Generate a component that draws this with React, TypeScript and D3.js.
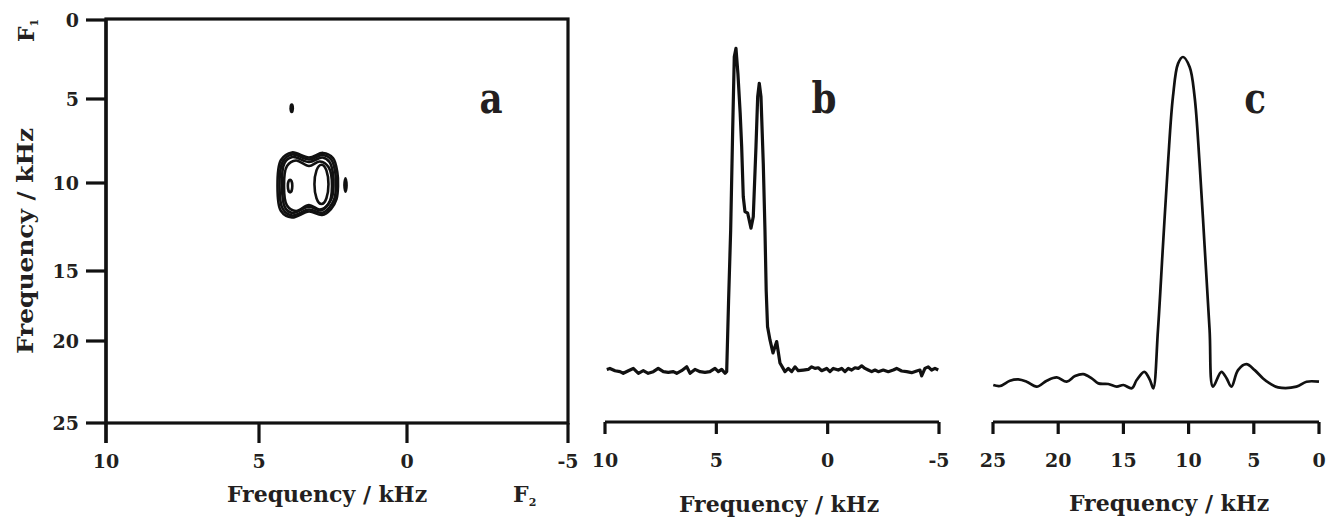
import React from 'react';
import * as d3 from 'd3';

// ---------- data ----------
const aXTicks = [10, 5, 0, -5];
const aYTicks = [0, 5, 10, 15, 20, 25];
const bXTicks = [10, 5, 0, -5];
const cXTicks = [25, 20, 15, 10, 5, 0];

// panel a: contour rings (F2 kHz, F1 kHz)
const ring1: [number, number][] = [
  [4.375, 10.17], [4.257, 8.63], [3.885, 8.18], [3.311, 8.48], [2.838, 8.21], [2.5, 8.51],
  [2.355, 9.35], [2.331, 10.17], [2.382, 10.91], [2.568, 11.48], [2.872, 11.82], [3.311, 11.62],
  [3.885, 11.96], [4.257, 11.59],
];
const ring2: [number, number][] = [
  [4.307, 10.17], [4.196, 8.72], [3.878, 8.3], [3.311, 8.6], [2.848, 8.33], [2.557, 8.61],
  [2.422, 9.38], [2.399, 10.17], [2.449, 10.88], [2.618, 11.38], [2.878, 11.7], [3.311, 11.51],
  [3.878, 11.85], [4.196, 11.48],
];
const ring3: [number, number][] = [
  [4.223, 10.17], [4.139, 8.81], [3.868, 8.45], [3.311, 8.75], [2.855, 8.48], [2.618, 8.75],
  [2.5, 9.43], [2.483, 10.17], [2.534, 10.82], [2.686, 11.25], [2.905, 11.56], [3.311, 11.34],
  [3.868, 11.7], [4.122, 11.39],
];
const ring4: [number, number][] = [
  [4.155, 10.17], [4.054, 8.99], [3.75, 8.66], [3.311, 8.99], [2.94, 8.72], [2.652, 9.05],
  [2.534, 10.17], [2.652, 11.19], [2.94, 11.51], [3.311, 11.25], [3.75, 11.59], [4.054, 11.28],
];
const contourRings = [ring1, ring2, ring3, ring4];
// stroked ellipses: [F2 centre, F1 centre, F2 half width, F1 half height]
const contourEllipses: [number, number, number, number][] = [
  [2.89, 10.05, 0.237, 1.14],
  [3.95, 10.17, 0.075, 0.36],
];
// filled small peaks
const contourDots: [number, number, number, number][] = [
  [2.078, 10.11, 0.08, 0.46],
  [3.895, 5.55, 0.08, 0.3],
];

// panel b spectrum
const specBFreq = [
  9.92, 9.78, 9.55, 9.33, 9.18, 8.95, 8.73, 8.5, 8.28, 8.06, 7.83, 7.61, 7.38, 7.16, 6.93, 6.78,
  6.56, 6.33, 6.18, 5.96, 5.73, 5.51, 5.29, 5.06, 4.91, 4.76, 4.61, 4.535, 4.45, 4.356, 4.266,
  4.194, 4.118, 4.03, 3.93, 3.862, 3.79, 3.714, 3.592, 3.444, 3.341, 3.22, 3.143, 3.071, 2.995,
  2.892, 2.816, 2.76, 2.7, 2.591, 2.456, 2.29, 2.142, 2.007, 1.917, 1.769, 1.617, 1.468, 1.32, 1.096,
  0.871, 0.719, 0.57, 0.422, 0.269, 0.045, -0.103, -0.252, -0.476, -0.629, -0.777, -0.925, -1.078,
  -1.226, -1.374, -1.527, -1.675, -1.823, -1.976, -2.124, -2.272, -2.497, -2.721, -2.946, -3.098,
  -3.323, -3.548, -3.772, -3.997, -4.144, -4.221, -4.369, -4.518, -4.67, -4.818, -4.966,
];
const specBInt = [
  0.008, 0.011, 0.004, 0.001, -0.004, 0.004, 0.011, -0.004, 0.004, -0.004, 0.001, 0.011, 0.001,
  -0.001, 0.001, -0.004, 0.004, 0.016, -0.004, 0.008, 0.001, -0.001, 0.001, 0.011, 0.001, 0.008,
  -0.004, 0.001, 0.22, 0.438, 0.747, 0.973, 0.999, 0.92, 0.8, 0.695, 0.541, 0.495, 0.49, 0.444,
  0.479, 0.695, 0.85, 0.891, 0.85, 0.644, 0.438, 0.25, 0.14, 0.099, 0.059, 0.094, 0.028, 0.012, 0.001,
  0.011, 0.001, 0.016, 0.004, 0.006, 0.008, 0.016, 0.011, 0.013, 0.004, 0.011, 0.001, 0.011,
  0.006, 0.011, 0.001, 0.011, 0.006, 0.013, 0.011, 0.019, 0.011, 0.006, 0.001, 0.006, 0.001,
  0.006, 0.001, 0.006, 0.011, 0.003, 0.001, -0.002, 0.003, 0.006, -0.012, 0.011, 0.016, 0.006,
  0.011, 0.006,
];

// panel c spectrum
const specCFreq = [
  24.98, 24.46, 23.7, 23.06, 22.42, 21.65, 20.88, 20.11, 19.35, 18.71, 18.08, 17.43, 16.92, 16.16,
  15.51, 15.0, 14.36, 13.98, 13.4, 12.96, 12.71, 12.35, 11.97, 11.58, 11.2, 10.81, 10.43, 9.92,
  9.54, 9.16, 8.77, 8.39, 8.13, 7.49, 7.1, 6.72, 6.21, 5.57, 4.93, 4.29, 3.78, 3.14, 1.73, 0.96, 0.0,
];
const specCInt = [
  0.009, 0.006, 0.022, 0.026, 0.019, 0.004, 0.022, 0.032, 0.019, 0.036, 0.042, 0.029, 0.014, 0.012,
  0.004, 0.009, -0.001, 0.024, 0.049, 0.024, -0.001, 0.175, 0.427, 0.679, 0.88, 0.98, 1.0, 0.97,
  0.88, 0.68, 0.427, 0.175, 0.004, 0.049, 0.03, 0.004, 0.054, 0.072, 0.054, 0.029, 0.014, 0.002,
  0.004, 0.019, 0.019,
];

// ---------- styles ----------
const INK = '#111111';
const TXT = '#231f20';
const FONT = '"DejaVu Serif", "Liberation Serif", serif';

export default function App() {
  const W = 1327, H = 518;

  // panel a scales
  const xA = d3.scaleLinear().domain([10, 5, 0, -5]).range([106, 259, 407, 568]);
  const yA = d3.scaleLinear().domain([0, 5, 10, 15, 20, 25]).range([20, 99, 183, 271, 341, 423]);
  // panel b
  const xB = d3.scaleLinear().domain([10, -5]).range([605, 939]);
  const yB = d3.scaleLinear().domain([0, 1]).range([372, 48]);
  // panel c
  const xC = d3.scaleLinear().domain([25, 0]).range([993, 1319]);
  const yC = d3.scaleLinear().domain([0, 1]).range([388, 57]);

  const ringLine = d3
    .line<[number, number]>()
    .x((d) => xA(d[0]))
    .y((d) => yA(d[1]))
    .curve(d3.curveCatmullRomClosed.alpha(0.5));

  const bPts: [number, number][] = specBFreq.map((f, i) => [f, specBInt[i]]);
  const cPts: [number, number][] = specCFreq.map((f, i) => [f, specCInt[i]]);
  const lineB = d3.line<[number, number]>().x((d) => xB(d[0])).y((d) => yB(d[1])).curve(d3.curveLinear);
  const lineC = d3
    .line<[number, number]>()
    .x((d) => xC(d[0]))
    .y((d) => yC(d[1]))
    .curve(d3.curveCatmullRom.alpha(0.5));

  const aLeft = xA(10), aRight = xA(-5), aTop = yA(0), aBot = yA(25);
  const axW = 3.2;
  const tickLen = 20;

  const ell = (e: [number, number, number, number]) => {
    const cx = xA(e[0]);
    const cy = (yA(e[1] - e[3]) + yA(e[1] + e[3])) / 2;
    const rx = Math.abs(xA(e[0] + e[2]) - xA(e[0] - e[2])) / 2;
    const ry = Math.abs(yA(e[1] + e[3]) - yA(e[1] - e[3])) / 2;
    return { cx, cy, rx, ry };
  };

  const axisY = 422;
  const smallTick = 12;
  const tickFs = 19;
  const titleFs = 22;

  return (
    <svg
      width={W}
      height={H}
      style={{ position: 'absolute', left: 0, top: 0, background: '#fff' }}
      fontFamily={FONT}
    >
      <rect x={0} y={0} width={W} height={H} fill="#fff" />
      {/* ===== panel a ===== */}
      <rect x={aLeft} y={aTop - 1} width={aRight - aLeft} height={aBot - aTop + 1} fill="none" stroke={INK} strokeWidth={axW} />
      <line x1={aLeft} x2={aLeft} y1={aTop} y2={aBot + tickLen} stroke={INK} strokeWidth={axW} />
      {aYTicks.map((t) => (
        <g key={'ay' + t}>
          <line x1={aLeft - tickLen} x2={aLeft} y1={yA(t)} y2={yA(t)} stroke={INK} strokeWidth={axW} />
          <text x={79} y={yA(t)} dy="0.36em" textAnchor="end" fontSize={tickFs} fontWeight="bold" fill={TXT}>
            {t}
          </text>
        </g>
      ))}
      {aXTicks.map((t) => (
        <g key={'ax' + t}>
          <line x1={xA(t)} x2={xA(t)} y1={aBot} y2={aBot + tickLen} stroke={INK} strokeWidth={axW} />
          <text x={xA(t)} y={468} textAnchor="middle" fontSize={tickFs} fontWeight="bold" fill={TXT}>
            {t}
          </text>
        </g>
      ))}
      {contourRings.map((r, i) => (
        <path key={'r' + i} d={ringLine(r) || ''} fill="none" stroke={INK} strokeWidth={2.6} />
      ))}
      {contourEllipses.map((e, i) => {
        const g = ell(e);
        return <ellipse key={'e' + i} cx={g.cx} cy={g.cy} rx={g.rx} ry={g.ry} fill="none" stroke={INK} strokeWidth={2.6} />;
      })}
      {contourDots.map((e, i) => {
        const g = ell(e);
        return <ellipse key={'d' + i} cx={g.cx} cy={g.cy} rx={g.rx} ry={g.ry} fill={INK} />;
      })}
      <text transform="translate(491,113) scale(0.85,1)" textAnchor="middle" fontSize={42} fontWeight="bold" fill={TXT}>a</text>
      <text x={327} y={502} textAnchor="middle" fontSize={titleFs} fontWeight="bold" fill={TXT}>Frequency / kHz</text>
      <text x={513} y={502} fontSize={titleFs} fontWeight="bold" fill={TXT}>
        F<tspan fontSize={11} dy={4}>2</tspan>
      </text>
      <text
        transform={`translate(33,241) rotate(-90)`}
        textAnchor="middle"
        fontSize={titleFs}
        fontWeight="bold"
        fill={TXT}
        textLength={226}
        lengthAdjust="spacingAndGlyphs"
      >
        Frequency / kHz
      </text>
      <text transform={`translate(34,42) rotate(-90)`} fontSize={titleFs} fontWeight="bold" fill={TXT}>
        F<tspan fontSize={11} dy={4}>1</tspan>
      </text>

      {/* ===== panel b ===== */}
      <path d={lineB(bPts) || ''} fill="none" stroke={INK} strokeWidth={3.2} strokeLinejoin="round" />
      <line x1={xB(10)} x2={xB(-5)} y1={axisY} y2={axisY} stroke={INK} strokeWidth={axW} />
      {bXTicks.map((t) => (
        <g key={'bx' + t}>
          <line x1={xB(t)} x2={xB(t)} y1={axisY} y2={axisY + smallTick} stroke={INK} strokeWidth={axW} />
          <text x={xB(t)} y={467} textAnchor="middle" fontSize={tickFs} fontWeight="bold" fill={TXT}>
            {t}
          </text>
        </g>
      ))}
      <text transform="translate(824,113) scale(0.85,1)" textAnchor="middle" fontSize={42} fontWeight="bold" fill={TXT}>b</text>
      <text x={779} y={512} textAnchor="middle" fontSize={titleFs} fontWeight="bold" fill={TXT}>Frequency / kHz</text>

      {/* ===== panel c ===== */}
      <path d={lineC(cPts) || ''} fill="none" stroke={INK} strokeWidth={2.7} strokeLinejoin="round" />
      <line x1={xC(25)} x2={xC(0)} y1={axisY} y2={axisY} stroke={INK} strokeWidth={axW} />
      {cXTicks.map((t) => (
        <g key={'cx' + t}>
          <line x1={xC(t)} x2={xC(t)} y1={axisY} y2={axisY + smallTick} stroke={INK} strokeWidth={axW} />
          <text x={xC(t)} y={467} textAnchor="middle" fontSize={tickFs} fontWeight="bold" fill={TXT}>
            {t}
          </text>
        </g>
      ))}
      <text transform="translate(1255,113) scale(0.85,1)" textAnchor="middle" fontSize={42} fontWeight="bold" fill={TXT}>c</text>
      <text x={1169} y={511} textAnchor="middle" fontSize={titleFs} fontWeight="bold" fill={TXT}>Frequency / kHz</text>
    </svg>
  );
}
